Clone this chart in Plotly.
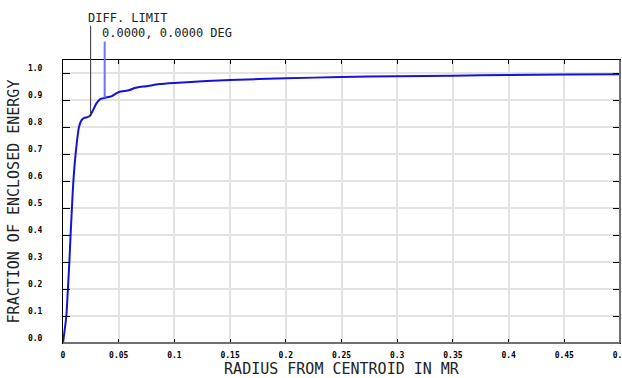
import plotly.graph_objects as go

# Encircled energy curve
radius = [0.0, 0.003, 0.0044, 0.0057, 0.0068, 0.008, 0.0093, 0.0113, 0.0143,
          0.0165, 0.019, 0.022, 0.024, 0.0269, 0.030, 0.0335, 0.038, 0.0434,
          0.0479, 0.0509, 0.0554, 0.0599, 0.0644, 0.0689, 0.0749, 0.0809,
          0.0869, 0.1, 0.129, 0.15, 0.2, 0.25, 0.3, 0.35, 0.4, 0.45, 0.5]
energy = [0.0, 0.1, 0.2, 0.3, 0.4, 0.5, 0.6, 0.7, 0.8,
          0.826, 0.835, 0.838, 0.842, 0.863, 0.889, 0.905, 0.910, 0.915,
          0.926, 0.932, 0.935, 0.939, 0.946, 0.950, 0.953, 0.957,
          0.961, 0.965, 0.972, 0.976, 0.982, 0.987, 0.990, 0.992, 0.994, 0.996, 0.997]

x_ticks = [0, 0.05, 0.1, 0.15, 0.2, 0.25, 0.3, 0.35, 0.4, 0.45, 0.5]
x_tick_labels = ["0", "0.05", "0.1", "0.15", "0.2", "0.25", "0.3", "0.35", "0.4", "0.45", "0.5"]
y_ticks = [0.0, 0.1, 0.2, 0.3, 0.4, 0.5, 0.6, 0.7, 0.8, 0.9, 1.0]
y_tick_labels = ["0.0", "0.1", "0.2", "0.3", "0.4", "0.5", "0.6", "0.7", "0.8", "0.9", "1.0"]

diff_limit_r, diff_limit_e = 0.0248, 0.842
field_r, field_e = 0.0374, 0.910

MONO = "DejaVu Sans Mono"

fig = go.Figure()
fig.add_trace(go.Scatter(x=radius, y=energy, mode="lines",
                         line=dict(color="#1414d8", width=2, shape="spline", smoothing=0.6),
                         hoverinfo="skip", showlegend=False))

axis_common = dict(showline=True, linecolor="black", linewidth=1, mirror="allticks",
                   ticks="inside", tickcolor="black", showgrid=True,
                   gridcolor="#e3e3e3", gridwidth=1.5, zeroline=False,
                   ticklabeloverflow="allow",
                   tickfont=dict(family=MONO, size=8, color="black", weight="bold"))

fig.update_xaxes(range=[0, 0.5], tickvals=x_ticks, ticktext=x_tick_labels,
                 ticklen=4, ticklabelstandoff=4,
                 title=dict(text="RADIUS FROM CENTROID IN MR", standoff=4,
                            font=dict(family=MONO, size=15, color="#222")),
                 **axis_common)
fig.update_yaxes(range=[0, 1.05], tickvals=y_ticks, ticktext=y_tick_labels,
                 ticklen=7, ticklabelstandoff=18, ticklabelshift=-5,
                 title=dict(text="FRACTION OF ENCLOSED ENERGY", standoff=4,
                            font=dict(family=MONO, size=15, color="#222")),
                 **axis_common)

# frame shading on right and bottom
fig.add_shape(type="line", xref="paper", yref="paper", x0=1, x1=1, y0=0, y1=1,
              line=dict(color="#707070", width=2))
fig.add_shape(type="line", xref="paper", yref="paper", x0=0, x1=1, y0=0, y1=0,
              line=dict(color="#707070", width=2))

# marker lines
fig.add_annotation(x=diff_limit_r, y=diff_limit_e, ax=diff_limit_r, ay=1.183,
                   axref="x", ayref="y", xref="x", yref="y", text="",
                   showarrow=True, arrowhead=0, arrowwidth=1, arrowcolor="#333")
fig.add_annotation(x=field_r, y=field_e, ax=field_r, ay=1.124,
                   axref="x", ayref="y", xref="x", yref="y", text="",
                   showarrow=True, arrowhead=0, arrowwidth=2, arrowcolor="#7070ff")

# label texts (paper y so they are not hidden outside the axis range)
fig.add_annotation(x=0.0204, y=1.147, xref="x", yref="paper", xanchor="left", yanchor="middle",
                   text="DIFF. LIMIT", showarrow=False,
                   font=dict(family=MONO, size=12, color="#222"))
fig.add_annotation(x=0.0332, y=1.095, xref="x", yref="paper", xanchor="left", yanchor="middle",
                   text="0.0000, 0.0000 DEG", showarrow=False,
                   font=dict(family=MONO, size=12, color="#222"))

fig.update_layout(width=622, height=378, margin=dict(l=63, r=2, t=60, b=35, autoexpand=False),
                  paper_bgcolor="white", plot_bgcolor="white")

fig.write_html("out.html", config={"displayModeBar": False},
               post_script="document.body.style.margin='0';document.body.style.padding='0';")
